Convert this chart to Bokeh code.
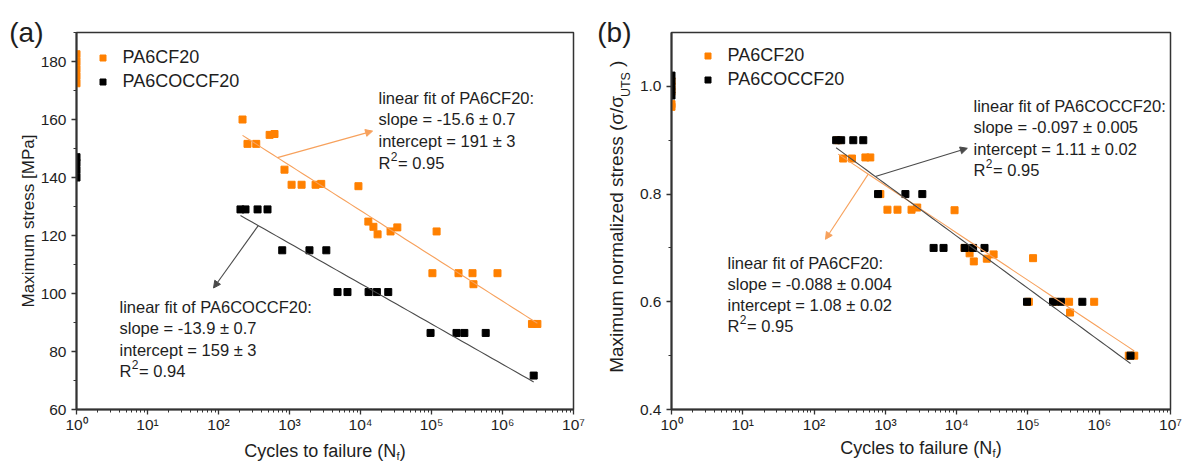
import numpy as np
from bokeh.plotting import figure
from bokeh.models import (Range1d, FixedTicker, CustomJSTickFormatter, Label,
                          Arrow, NormalHead, Legend, LegendItem, LinearAxis, LogAxis)
from bokeh.layouts import row
from bokeh.embed import file_html
from bokeh.resources import INLINE

# ---------------- data ----------------
series_names = ["PA6CF20", "PA6COCCF20"]

# PA6CF20 fatigue results
cf20_cycles = [218, 256, 340, 525, 615, 850, 1070, 1480, 2330, 2800, 9350,
               12900, 15200, 17400, 26500, 33000, 118000, 103000, 240000,
               378000, 390000, 850000, 2600000, 3100000]
cf20_stress = [160.0, 151.6, 151.6, 154.7, 155.0, 142.7, 137.5, 137.5, 137.5, 137.8, 137.0,
               124.8, 123.0, 120.4, 121.4, 122.8, 121.4, 107.0, 107.0,
               107.0, 103.2, 107.0, 89.5, 89.5]
cf20_norm = [0.90, 0.866, 0.866, 0.868, 0.868, 0.80, 0.771, 0.771, 0.771, 0.775, 0.77,
             0.70, 0.69, 0.675, 0.68, 0.688, 0.681, 0.60, 0.60,
             0.60, 0.58, 0.60, 0.50, 0.50]
# static strength points (N = 1)
cf20_uts_cycles = [1, 1, 1, 1, 1]
cf20_uts_stress = [172.5, 175.0, 177.5, 180.0, 182.5]
cf20_uts_norm = [0.962, 0.967, 0.99, 1.0, 1.01]

# PA6COCCF20 fatigue results
co_cycles = [204, 240, 355, 490, 790, 1910, 3300, 4750, 6550, 13000, 17000, 24600,
             97000, 225000, 290000, 580000, 2750000]
co_stress = [129.0, 129.0, 129.0, 129.0, 114.9, 114.9, 114.9, 100.5, 100.5, 100.5, 100.5, 100.5,
             86.4, 86.4, 86.4, 86.4, 71.7]
co_norm = [0.90, 0.90, 0.90, 0.90, 0.80, 0.80, 0.80, 0.70, 0.70, 0.70, 0.70, 0.70,
           0.60, 0.60, 0.60, 0.60, 0.50]
co_uts_cycles = [1, 1, 1, 1]
co_uts_stress = [140.0, 142.5, 145.0, 147.0]
co_uts_norm = [0.983, 0.995, 1.008, 1.02]

# linear fits  y = intercept + slope * log10(N)
fit_a_cf20 = (-15.6, 191.0)
fit_a_co = (-13.9, 159.0)
fit_b_cf20 = (-0.088, 1.08)
fit_b_co = (-0.097, 1.11)

text_a_cf20 = ["linear fit of PA6CF20:", "slope = -15.6 \u00b1 0.7", "intercept = 191 \u00b1 3", "0.95"]
text_a_co = ["linear fit of PA6COCCF20:", "slope = -13.9 \u00b1 0.7", "intercept = 159 \u00b1 3", "0.94"]
text_b_co = ["linear fit of PA6COCCF20:", "slope = -0.097 \u00b1 0.005", "intercept = 1.11 \u00b1 0.02", "0.95"]
text_b_cf20 = ["linear fit of PA6CF20:", "slope = -0.088 \u00b1 0.004", "intercept = 1.08 \u00b1 0.02", "0.95"]

x_ticks = [10 ** k for k in range(8)]
x_minor = [m * 10 ** k for k in range(7) for m in range(2, 10)]
ya_ticks = [60, 80, 100, 120, 140, 160, 180]
ya_minor = [70, 90, 110, 130, 150, 170, 190]
yb_ticks = [0.4, 0.6, 0.8, 1.0]
yb_minor = [0.5, 0.7, 0.9]

xlabel_main = "Cycles to failure (N"
xlabel_sub = "f"
xlabel_end = ")"
ya_label = "Maximum stress [MPa]"
yb_label_main = "Maximum normalized stress (\u03c3/\u03c3"
yb_label_sub = "UTS"
yb_label_end = ")"

# ---------------- style ----------------
ORANGE = "#ff8000"
BLACK = "#000000"
ORANGE_LINE = "#f7a15c"
BLACK_LINE = "#4a4a4a"
FONT = "Liberation Sans"
TXT = "#1e1e1e"
AX = "#333333"

sup_js = CustomJSTickFormatter(code="""
const s = {'0':'\u2070','1':'\u00b9','2':'\u00b2','3':'\u00b3','4':'\u2074',
           '5':'\u2075','6':'\u2076','7':'\u2077','8':'\u2078','9':'\u2079','-':'\u207b'};
const e = Math.round(Math.log10(tick));
return '10' + String(e).split('').map(c => s[c]).join('');
""")

PICK_JS = """
let best = 0, d = Infinity;
for (let i = 0; i < pos.length; i++) {
  const di = Math.abs(pos[i] - tick) / Math.abs(pos[i]);
  if (di < d) { d = di; best = i; }
}
return labels[best];
"""


def make_fig(width, height, yr, yt, ym, left, right, top, bottom, yfmt):
    p = figure(width=width, height=height, x_axis_type="log",
               x_range=Range1d(1, 1e7), y_range=Range1d(*yr),
               output_backend="svg", toolbar_location=None,
               min_border_left=left, min_border_right=right,
               min_border_top=top, min_border_bottom=bottom)
    p.xgrid.visible = False
    p.ygrid.visible = False
    p.outline_line_color = AX
    p.outline_line_width = 1.5
    p.xaxis.ticker = FixedTicker(ticks=x_ticks, minor_ticks=x_minor)
    p.xaxis.formatter = sup_js
    p.yaxis.ticker = FixedTicker(ticks=yt, minor_ticks=ym)
    p.yaxis.formatter = CustomJSTickFormatter(code=yfmt)
    for ax in (p.xaxis[0], p.yaxis[0]):
        ax.axis_line_color = AX
        ax.axis_line_width = 2
        ax.major_tick_line_color = AX
        ax.minor_tick_line_color = AX
        ax.major_tick_line_width = 1.3
        ax.minor_tick_line_width = 1
        ax.major_tick_out = 5
        ax.major_tick_in = 0
        ax.minor_tick_out = 3
        ax.minor_tick_in = 0
        ax.major_label_text_font = FONT
        ax.major_label_text_font_size = "15.5px"
        ax.major_label_text_color = TXT
    p.xaxis.major_label_standoff = 1
    p.yaxis.major_label_standoff = 5
    return p


def text_axis(p, side, positions, labels, size, standoff, orientation="horizontal", log=False):
    cls = LogAxis if log else LinearAxis
    ax = cls(ticker=FixedTicker(ticks=positions, minor_ticks=[]),
             formatter=CustomJSTickFormatter(args=dict(pos=positions, labels=labels), code=PICK_JS),
             axis_line_color=None, major_tick_line_color=None, minor_tick_line_color=None,
             major_tick_out=0, major_tick_in=0, minor_tick_out=0, minor_tick_in=0,
             major_label_standoff=standoff, major_label_orientation=orientation,
             major_label_text_font=FONT, major_label_text_font_size=size,
             major_label_text_color=TXT)
    p.add_layout(ax, side)


def lab(p, sx, sy, text, size="16.5px"):
    p.add_layout(Label(x=sx, y=sy, x_units="screen", y_units="screen", text=text,
                       text_font=FONT, text_font_size=size, text_color=TXT,
                       text_align="left", text_baseline="alphabetic"))


def fit_line(p, cycles, fit, color):
    lx = np.linspace(np.log10(min(cycles)), np.log10(max(cycles)), 50)
    slope, icpt = fit
    p.line(10 ** lx, icpt + slope * lx, line_color=color, line_width=1.1)


def arrow(p, fit, logn_start, logn_end, y_end, color):
    slope, icpt = fit
    p.add_layout(Arrow(end=NormalHead(size=7, fill_color=color, line_color=color, line_width=1),
                       x_start=10 ** logn_start, y_start=icpt + slope * logn_start,
                       x_end=10 ** logn_end, y_end=y_end,
                       line_color=color, line_width=1.1))


def fit_text(p, sx, sy0, lines, dy):
    for i in range(3):
        lab(p, sx, sy0 - i * dy, lines[i])
    yr = sy0 - 3 * dy
    lab(p, sx, yr, "R")
    lab(p, sx + 12.2, yr + 6.5, "2", size="12px")
    lab(p, sx + 19.5, yr, "= " + lines[3])


def x_label(p, frame_w, standoff_main, standoff_sub):
    w_main = 8.446 * 18
    w_sub = 0.278 * 11
    w_end = 0.333 * 18
    total = w_main + w_sub + 0.6 + w_end
    start = frame_w / 2 - total / 2
    to_x = lambda px: 10 ** (px * 7.0 / frame_w)
    text_axis(p, "below", [to_x(start + w_main / 2), to_x(start + w_main + w_sub + 0.6 + w_end / 2)],
              [xlabel_main, xlabel_end], "18px", standoff_main, log=True)
    text_axis(p, "below", [to_x(start + w_main + w_sub / 2 + 0.3)], [xlabel_sub], "11px",
              standoff_sub, log=True)


def legend(p, renderers, vx, vy):
    items = [LegendItem(label=n, renderers=[r]) for n, r in zip(series_names, renderers)]
    lg = Legend(items=items, location=(vx, vy), padding=0, margin=0, spacing=3,
                glyph_width=15, glyph_height=15, label_standoff=13,
                label_text_font=FONT, label_text_font_size="18px", label_text_color=TXT,
                border_line_color=None, background_fill_alpha=0)
    p.add_layout(lg)


# ---------------- panel (a) ----------------
FWa, FHa = 497, 379
pa = make_fig(593, 464, (60, 190), ya_ticks, ya_minor, 76, 20, 30, 55,
              "return tick.toFixed(0);")
pa.yaxis.axis_label = ya_label
pa.yaxis.axis_label_text_font = FONT
pa.yaxis.axis_label_text_font_size = "17px"
pa.yaxis.axis_label_text_font_style = "normal"
pa.yaxis.axis_label_text_color = TXT
pa.yaxis.axis_label_standoff = 0
ra1 = pa.scatter(cf20_cycles, cf20_stress, marker="square", size=7, color=ORANGE)
pa.scatter(cf20_uts_cycles, cf20_uts_stress, marker="square", size=7, color=ORANGE)
ra2 = pa.scatter(co_cycles, co_stress, marker="square", size=7, color=BLACK)
pa.scatter(co_uts_cycles, co_uts_stress, marker="square", size=7, color=BLACK)
fit_line(pa, cf20_cycles, fit_a_cf20, ORANGE_LINE)
fit_line(pa, co_cycles, fit_a_co, BLACK_LINE)
arrow(pa, fit_a_cf20, 2.83, 4.17, 156.0, ORANGE_LINE)
arrow(pa, fit_a_co, 2.56, 1.93, 101.9, BLACK_LINE)
fit_text(pa, 302, 312, text_a_cf20, 21.7)
fit_text(pa, 43, 103, text_a_co, 21.5)
legend(pa, [ra1, ra2], 18.5, FHa - 62)
text_axis(pa, "left", [190.0], ["(a)"], "28px", -28)
x_label(pa, FWa, 5, -14)

# ---------------- panel (b) ----------------
FWb, FHb = 499, 380
pb = make_fig(593, 464, (0.4, 1.1), yb_ticks, yb_minor, 78, 16, 32, 52,
              "return tick.toFixed(1);")
rb1 = pb.scatter(cf20_cycles, cf20_norm, marker="square", size=7, color=ORANGE)
pb.scatter(cf20_uts_cycles, cf20_uts_norm, marker="square", size=7, color=ORANGE)
rb2 = pb.scatter(co_cycles, co_norm, marker="square", size=7, color=BLACK)
pb.scatter(co_uts_cycles, co_uts_norm, marker="square", size=7, color=BLACK)
fit_line(pb, cf20_cycles, fit_b_cf20, ORANGE_LINE)
fit_line(pb, co_cycles, fit_b_co, BLACK_LINE)
arrow(pb, fit_b_co, 2.86, 4.15, 0.885, BLACK_LINE)
arrow(pb, fit_b_cf20, 2.76, 2.16, 0.716, ORANGE_LINE)
fit_text(pb, 302, 303.7, text_b_co, 21.5)
fit_text(pb, 56, 147, text_b_cf20, 21.0)
legend(pb, [rb1, rb2], 28.5, FHb - 61)

# rotated y label with subscript, built from axis tick labels
YF = 19
yb_per_px = 0.7 / FHb
w_main = 14.535 * YF
w_sub = 2.0 * 12.5
w_gap = 0.278 * YF
w_end = 0.333 * YF
start = 195 - (w_main + 0.5 + w_sub + w_gap + w_end) / 2
y_main = 0.4 + (start + w_main / 2) * yb_per_px
y_sub = 0.4 + (start + w_main + 0.5 + w_sub / 2) * yb_per_px
y_end = 0.4 + (start + w_main + 0.5 + w_sub + w_gap + w_end / 2) * yb_per_px
text_axis(pb, "left", [y_sub], [yb_label_sub], "12.5px", 3, orientation="vertical")
text_axis(pb, "left", [y_main, y_end], [yb_label_main, yb_label_end], "%dpx" % YF, -11,
          orientation="vertical")
text_axis(pb, "left", [1.1], ["(b)"], "28px", -28)
x_label(pb, FWb, 2, -14)

layout = row(pa, pb)
open("out.html", "w").write(file_html(layout, INLINE))
